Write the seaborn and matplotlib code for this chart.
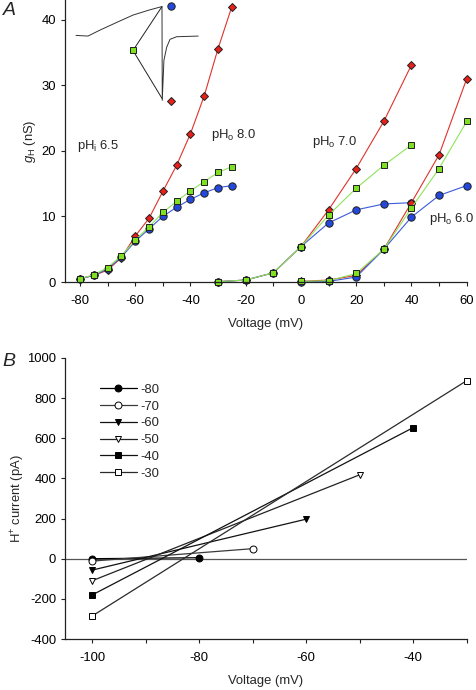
import matplotlib
matplotlib.use("Agg")
import matplotlib.pyplot as plt
from matplotlib.ticker import MultipleLocator
import seaborn as sns

sns.set_style("ticks")
plt.rcParams["font.family"] = ["Liberation Sans", "DejaVu Sans"]
plt.rcParams["axes.unicode_minus"] = False
plt.rcParams["font.size"] = 9.4
plt.rcParams["mathtext.fontset"] = "custom"
plt.rcParams["mathtext.rm"] = "Liberation Sans"
plt.rcParams["mathtext.it"] = "Liberation Sans:italic"

# ── Panel A data: g_H (nS) vs voltage (mV) ────────────────────────────────
# pHo 8.0
v_ph8 = [-80, -75, -70, -65, -60, -55, -50, -45, -40, -35, -30, -25]
ph8_diamond = [0.5, 1.0, 1.8, 3.7, 7.0, 9.7, 13.8, 17.8, 22.6, 28.4, 35.6, 42.0]
ph8_circle = [0.5, 1.0, 2.0, 3.8, 6.2, 8.1, 10.0, 11.4, 12.6, 13.6, 14.4, 14.7]
ph8_square = [0.5, 1.1, 2.2, 4.0, 6.4, 8.4, 10.6, 12.3, 13.9, 15.3, 16.7, 17.6]
# pHo 7.0
v_ph7 = [-30, -20, -10, 0, 10, 20, 30, 40]
ph7_diamond = [0.05, 0.3, 1.4, 5.4, 11.0, 17.3, 24.5, 33.1]
ph7_circle = [0.05, 0.3, 1.4, 5.4, 9.0, 11.0, 11.9, 12.1]
ph7_square = [0.05, 0.3, 1.4, 5.4, 10.2, 14.3, 17.8, 20.9]
# pHo 6.0
v_ph6 = [0, 10, 20, 30, 40, 50, 60]
ph6_diamond = [0.1, 0.3, 1.0, 5.0, 12.1, 19.4, 31.0]
ph6_circle = [0.05, 0.1, 0.75, 5.0, 9.9, 13.2, 14.7]
ph6_square = [0.1, 0.2, 1.3, 5.0, 11.3, 17.3, 24.5]

# inset: schematic current trace and where each measurement is taken
inset_v = [-81.4, -77.1, -72.8, -66.6, -60.8, -54.7, -50.3, -50.2, -49.6,
           -48.6, -47.4, -45.0, -37.2]
inset_g = [37.6, 37.5, 38.4, 39.6, 40.7, 41.5, 42.0, 27.7, 33.8,
           35.8, 37.0, 37.4, 37.5]
inset_square = (-60.8, 35.3)
inset_top = (-50.3, 42.0)
inset_bottom = (-50.3, 28.0)
inset_circle = (-47.0, 42.05)
inset_diamond = (-47.0, 27.6)

# ── Panel B data: H+ current (pA) vs voltage, by prepulse ──────────────────
prepulse_labels = ["-80", "-70", "-60", "-50", "-40", "-30"]
b_v = [[-100, -80], [-100, -70], [-100, -60], [-100, -50], [-100, -40], [-100, -30]]
b_i = [[0, 5], [-12, 50], [-57, 197], [-110, 418], [-181, 653], [-286, 887]]

# ── styles ────────────────────────────────────────────────────────────────
sty = {
    "diamond": dict(marker="D", line="#e0322c", face="#e8201c", ms=4.3),
    "circle": dict(marker="o", line="#3b5bd8", face="#2447dc", ms=5.3),
    "square": dict(marker="s", line="#8fe35a", face="#7ee020", ms=4.7),
}
b_markers = ["o", "o", "v", "v", "s", "s"]
b_faces = ["black", "white", "black", "white", "black", "white"]
b_lines = ["black", "#3a3a3a", "#111111", "#222222", "#111111", "#2a2a2a"]

fig = plt.figure(figsize=(4.76, 6.9), dpi=100)
axA = fig.add_axes([0.136, 0.5913, 0.8445, 0.4087])
axB = fig.add_axes([0.137, 0.0739, 0.8435, 0.4073])


def draw(ax, v, g, kind):
    s = sty[kind]
    sns.lineplot(x=v, y=g, ax=ax, color=s["line"], linewidth=0.8,
                 marker=s["marker"], markersize=s["ms"],
                 markerfacecolor=s["face"], markeredgecolor="#202020",
                 markeredgewidth=0.7, estimator=None, sort=False,
                 clip_on=False)


for v, d, c, q in [(v_ph8, ph8_diamond, ph8_circle, ph8_square),
                   (v_ph7, ph7_diamond, ph7_circle, ph7_square),
                   (v_ph6, ph6_diamond, ph6_circle, ph6_square)]:
    draw(axA, v, d, "diamond")
    draw(axA, v, c, "circle")
    draw(axA, v, q, "square")

# inset trace
axA.plot(inset_v, inset_g, color="#333333", linewidth=0.7)
axA.plot([inset_square[0], inset_top[0]], [inset_square[1], inset_top[1]],
         color="#222222", linewidth=0.7)
axA.plot([inset_square[0], inset_bottom[0]], [inset_square[1], inset_bottom[1]],
         color="#222222", linewidth=0.7)
for (x, y), kind in [(inset_square, "square"), (inset_circle, "circle"),
                     (inset_diamond, "diamond")]:
    s = sty[kind]
    axA.plot(x, y, marker=s["marker"], markersize=s["ms"],
             markerfacecolor=s["face"], markeredgecolor="#202020",
             markeredgewidth=0.7, linestyle="none", clip_on=False)

axA.text(-81.0, 20.8, r"pH$_\mathrm{i}$ 6.5", va="center", ha="left")
axA.text(-32.7, 22.4, r"pH$_\mathrm{o}$ 8.0", va="center", ha="left")
axA.text(3.9, 21.3, r"pH$_\mathrm{o}$ 7.0", va="center", ha="left")
axA.text(62.8, 9.55, r"pH$_\mathrm{o}$ 6.0", va="center", ha="right")

axA.set_xlim(-85.5, 60)
axA.set_ylim(0, 43)
axA.set_xticks(range(-80, 61, 20))
axA.xaxis.set_minor_locator(MultipleLocator(10))
axA.set_yticks(range(0, 41, 10))
axA.set_xlabel("Voltage (mV)", labelpad=8)
axA.set_ylabel(r"$g_\mathrm{H}$ (nS)", labelpad=2)

# ── Panel B ───────────────────────────────────────────────────────────────
axB.axhline(0, color="#555555", linewidth=0.9, zorder=1)
for lab, v, i, m, fc, lc in zip(prepulse_labels, b_v, b_i, b_markers, b_faces, b_lines):
    sns.lineplot(x=v, y=i, ax=axB, color=lc, linewidth=0.9, marker=m,
                 markersize=5.0, markerfacecolor=fc, markeredgecolor="black",
                 markeredgewidth=0.7, estimator=None, sort=False, label=lab,
                 clip_on=False)

axB.set_xlim(-105, -30)
axB.set_ylim(-400, 1000)
axB.set_xticks([-100, -80, -60, -40])
axB.xaxis.set_minor_locator(MultipleLocator(10))
axB.set_yticks(range(-400, 1001, 200))
axB.set_xlabel("Voltage (mV)", labelpad=8)
axB.set_ylabel(r"H$^{+}$ current (pA)", labelpad=0)
axB.legend(loc="upper left", bbox_to_anchor=(0.087, 0.908), frameon=False,
           handlelength=2.8, handletextpad=0.3, labelspacing=0.35,
           borderpad=0, borderaxespad=0)

for ax in (axA, axB):
    sns.despine(ax=ax)
    for sp in ("left", "bottom"):
        ax.spines[sp].set_linewidth(0.9)
        ax.spines[sp].set_color("#222222")
    ax.tick_params(which="both", direction="out", width=0.8, length=3,
                   colors="#222222", labelcolor="black")
    ax.tick_params(axis="x", pad=6)
    ax.grid(False)

fig.text(0.006, 0.997, "A", fontsize=14, style="italic", va="top")
fig.text(0.006, 0.489, "B", fontsize=14, style="italic", va="top")

fig.savefig("out.png", dpi=100)
